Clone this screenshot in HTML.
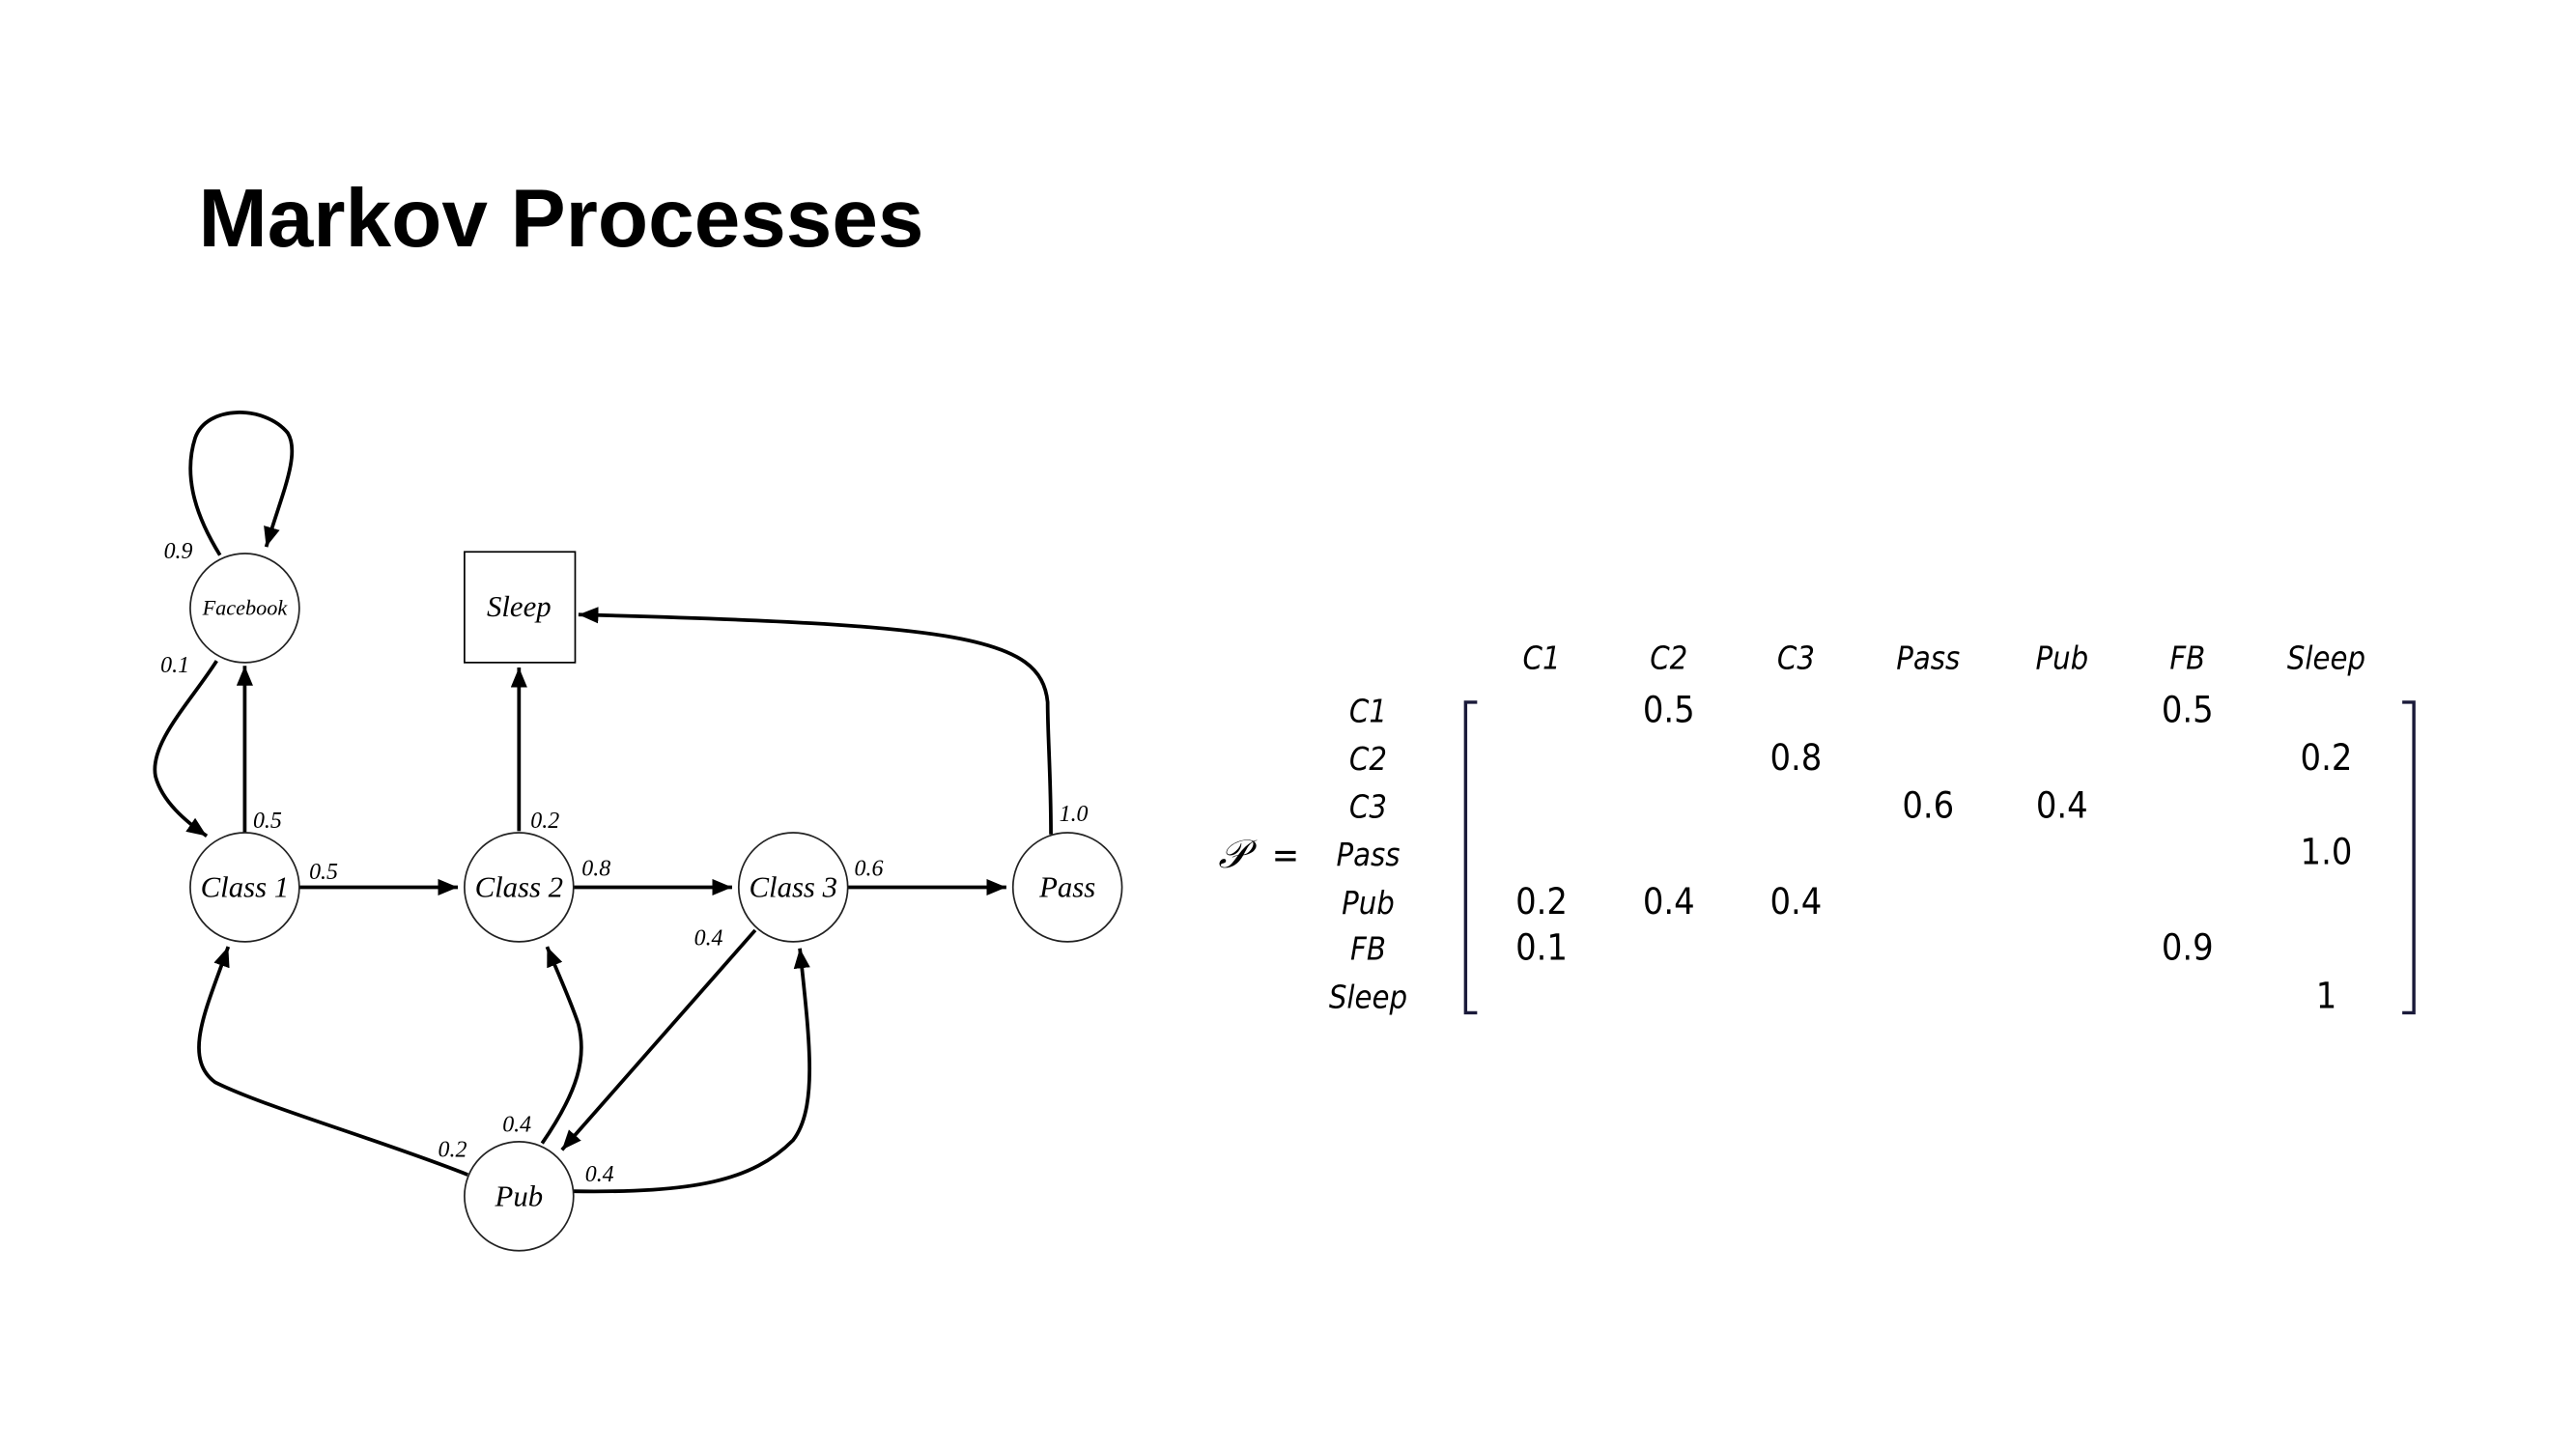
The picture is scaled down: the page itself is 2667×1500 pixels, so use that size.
<!DOCTYPE html>
<html><head><meta charset="utf-8"><style>
html,body{margin:0;padding:0;background:#fff;}
svg{display:block;}
</style></head><body>
<svg width="2667" height="1500" viewBox="0 0 1559 877" xmlns="http://www.w3.org/2000/svg">
<defs>
<marker id="a" markerWidth="12" markerHeight="10" refX="12" refY="5" orient="auto" markerUnits="userSpaceOnUse">
<path d="M0,0 L12,5 L0,10 z" fill="#000"/>
</marker>
</defs>
<text x="120" y="149" font-family="Liberation Sans, sans-serif" font-weight="bold" font-size="50">Markov Processes</text>

<g fill="none" stroke="#000" stroke-width="2.2">
<path d="M133,336 C120,315 110,290 118,265 C125,245 160,245 174,262 C182,275 170,300 161,331" marker-end="url(#a)"/>
<path d="M131,400 C115,425 90,450 94,470 C98,485 112,497 125,506" marker-end="url(#a)"/>
<path d="M148,504 L148,403" marker-end="url(#a)"/>
<path d="M181,537 L277,537" marker-end="url(#a)"/>
<path d="M314,503 L314,404" marker-end="url(#a)"/>
<path d="M347,537 L443,537" marker-end="url(#a)"/>
<path d="M513,537 L609,537" marker-end="url(#a)"/>
<path d="M636,505 C636,470 634,445 634,425 C630,385 580,378 350,372" marker-end="url(#a)"/>
<path d="M457,563 L340,696" marker-end="url(#a)"/>
<path d="M283,711 C230,690 160,670 130,655 C110,640 125,610 138,573" marker-end="url(#a)"/>
<path d="M328,692 C350,660 355,640 350,620 C345,605 338,590 331,573" marker-end="url(#a)"/>
<path d="M347,721 C420,722 455,715 480,690 C495,670 490,630 484,574" marker-end="url(#a)"/>
</g>

<g fill="#fff" stroke="#222" stroke-width="1">
<circle cx="148" cy="368" r="33"/>
<circle cx="148" cy="537" r="33"/>
<circle cx="314" cy="537" r="33"/>
<circle cx="480" cy="537" r="33"/>
<circle cx="646" cy="537" r="33"/>
<circle cx="314" cy="724" r="33"/>
<rect x="281" y="334" width="67" height="67" stroke="#000"/>
</g>

<g font-family="Liberation Serif, serif" font-style="italic" text-anchor="middle" fill="#000">
<text x="148" y="372" font-size="13">Facebook</text>
<text x="148" y="543" font-size="18">Class 1</text>
<text x="314" y="543" font-size="18">Class 2</text>
<text x="480" y="543" font-size="18">Class 3</text>
<text x="646" y="543" font-size="18">Pass</text>
<text x="314" y="730" font-size="18">Pub</text>
<text x="314" y="373" font-size="18">Sleep</text>
</g>
<g font-family="Liberation Serif, serif" font-style="italic" font-size="14" fill="#000">
<text x="99" y="338">0.9</text>
<text x="97" y="407">0.1</text>
<text x="153" y="501">0.5</text>
<text x="187" y="532">0.5</text>
<text x="321" y="501">0.2</text>
<text x="352" y="530">0.8</text>
<text x="517" y="530">0.6</text>
<text x="641" y="497">1.0</text>
<text x="420" y="572">0.4</text>
<text x="304" y="685">0.4</text>
<text x="265" y="700">0.2</text>
<text x="354" y="715">0.4</text>
</g>

<g font-family="DejaVu Sans Condensed, DejaVu Sans, sans-serif" font-size="22" text-anchor="middle" fill="#000">
<g font-style="italic" font-size="19">
<text x="933" y="405">C1</text><text x="1010" y="405">C2</text><text x="1087" y="405">C3</text>
<text x="1167" y="405">Pass</text><text x="1248" y="405">Pub</text><text x="1324" y="405">FB</text><text x="1408" y="405">Sleep</text>
<text x="828" y="437">C1</text><text x="828" y="466">C2</text><text x="828" y="495">C3</text>
<text x="828" y="524">Pass</text><text x="828" y="553">Pub</text><text x="828" y="581">FB</text><text x="828" y="610">Sleep</text>
</g>
<text x="1010" y="437">0.5</text><text x="1324" y="437">0.5</text>
<text x="1087" y="466">0.8</text><text x="1408" y="466">0.2</text>
<text x="1167" y="495">0.6</text><text x="1248" y="495">0.4</text>
<text x="1408" y="523">1.0</text>
<text x="933" y="553">0.2</text><text x="1010" y="553">0.4</text><text x="1087" y="553">0.4</text>
<text x="933" y="581">0.1</text><text x="1324" y="581">0.9</text>
<text x="1408" y="610">1</text>
<text x="746" y="525" font-family="Liberation Serif, serif" font-style="italic" font-size="24">𝒫</text>
<text x="778" y="525" font-size="22">=</text>
</g>
<g fill="none" stroke="#1a1a3a" stroke-width="2">
<path d="M894,425 L887,425 L887,613 L894,613"/>
<path d="M1454,425 L1461,425 L1461,613 L1454,613"/>
</g>
</svg>
</body></html>
